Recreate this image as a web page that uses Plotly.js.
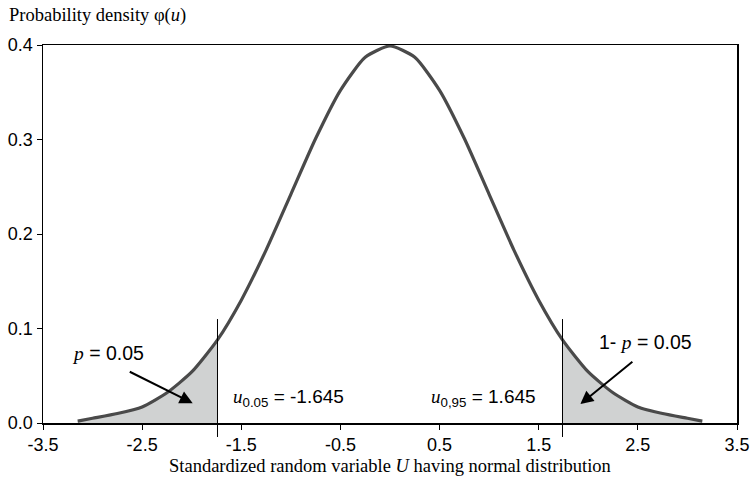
<!DOCTYPE html>
<html>
<head>
<meta charset="utf-8">
<script src="https://cdn.plot.ly/plotly-3.0.1.min.js"></script>
<style>html,body{margin:0;padding:0;background:#fff;}#chart{width:750px;height:481px;}</style>
</head>
<body>
<div id="chart"></div>
<script>
// Curve points
const uValues = [-3.15, -3.0, -2.75, -2.5, -2.25, -2.0, -1.74, -1.5, -1.25, -1.0, -0.75, -0.5, -0.25, 0.0, 0.25, 0.5, 0.75, 1.0, 1.25, 1.5, 1.74, 2.0, 2.25, 2.5, 2.75, 3.0, 3.15];
const densityValues = [0.002, 0.005, 0.010, 0.017, 0.032, 0.054, 0.088, 0.130, 0.183, 0.242, 0.301, 0.352, 0.387, 0.399, 0.387, 0.352, 0.301, 0.242, 0.183, 0.130, 0.088, 0.054, 0.032, 0.017, 0.010, 0.005, 0.002];
const criticalValues = [-1.74, 1.74];
const xTickValues = [-3.5, -2.5, -1.5, -0.5, 0.5, 1.5, 2.5, 3.5];
const yTickValues = [0.0, 0.1, 0.2, 0.3, 0.4];

const serif = "'Liberation Serif', 'Times New Roman', serif";
const sans = "'Liberation Sans', Arial, sans-serif";

function tail(cond) {
  const xs = [], ys = [];
  uValues.forEach((u, i) => { if (cond(u)) { xs.push(u); ys.push(densityValues[i]); } });
  return {x: xs, y: ys};
}
const leftTail = tail(u => u <= criticalValues[0]);
const rightTail = tail(u => u >= criticalValues[1]);

const fillColor = 'rgb(208,210,210)';
const traces = [
  {x: leftTail.x, y: leftTail.y, type: 'scatter', mode: 'lines', fill: 'tozeroy', fillcolor: fillColor, line: {width: 0, shape: 'spline', smoothing: 0.6}, hoverinfo: 'skip'},
  {x: rightTail.x, y: rightTail.y, type: 'scatter', mode: 'lines', fill: 'tozeroy', fillcolor: fillColor, line: {width: 0, shape: 'spline', smoothing: 0.6}, hoverinfo: 'skip'},
  {x: uValues, y: densityValues, type: 'scatter', mode: 'lines', line: {color: '#4a4a4a', width: 3.2, shape: 'spline', smoothing: 0.6}}
];

const shapes = criticalValues.map(c => ({
  type: 'line', xref: 'x', yref: 'paper', x0: c, x1: c, y0: -0.037, y1: 0.275,
  line: {color: '#000', width: 1}, layer: 'above'
}));

const serifSpan = t => "<span style='font-family:Liberation Serif'><i>" + t + "</i></span>";

const annotations = [
  {xref: 'paper', yref: 'paper', x: -0.052, y: 1.077, xanchor: 'left', yanchor: 'middle', showarrow: false,
   text: "Probability density φ(<i>u</i>)", font: {family: serif, size: 18.5, color: '#000'}},
  {xref: 'paper', yref: 'paper', x: 0.5, y: -0.113, xanchor: 'center', yanchor: 'middle', showarrow: false,
   text: "Standardized random variable <i>U</i> having normal distribution", font: {family: serif, size: 18.5, color: '#000'}},
  {xref: 'x', yref: 'y', x: -2.84, y: 0.074, xanchor: 'center', yanchor: 'middle', showarrow: false,
   text: serifSpan('p') + " = 0.05", font: {family: sans, size: 19.5, color: '#000'}},
  {xref: 'x', yref: 'y', x: 2.58, y: 0.086, xanchor: 'center', yanchor: 'middle', showarrow: false,
   text: "1- " + serifSpan('p') + " = 0.05", font: {family: sans, size: 19.5, color: '#000'}},
  {xref: 'x', yref: 'y', x: -1.02, y: 0.026, xanchor: 'center', yanchor: 'middle', showarrow: false,
   text: serifSpan('u') + "<sub>0.05</sub> = -1.645", font: {family: sans, size: 19, color: '#000'}},
  {xref: 'x', yref: 'y', x: 0.94, y: 0.026, xanchor: 'center', yanchor: 'middle', showarrow: false,
   text: serifSpan('u') + "<sub>0,95</sub> = 1.645", font: {family: sans, size: 19, color: '#000'}},
  {xref: 'x', yref: 'y', x: -1.99, y: 0.021, ax: -2.64, ay: 0.055, axref: 'x', ayref: 'y', showarrow: true,
   arrowhead: 2, arrowsize: 1.3, arrowwidth: 2, arrowcolor: '#000', text: ''},
  {xref: 'x', yref: 'y', x: 1.92, y: 0.020, ax: 2.46, ay: 0.066, axref: 'x', ayref: 'y', showarrow: true,
   arrowhead: 2, arrowsize: 1.3, arrowwidth: 2, arrowcolor: '#000', text: ''}
];

const layout = {
  width: 750, height: 481,
  margin: {l: 43, r: 13, t: 45, b: 58},
  paper_bgcolor: '#fff', plot_bgcolor: '#fff',
  showlegend: false,
  xaxis: {
    range: [-3.5, 3.5], tickvals: xTickValues, ticktext: xTickValues.map(v => v.toFixed(1)),
    showgrid: false, zeroline: false, showline: true, linecolor: '#000', linewidth: 1.5, mirror: true,
    ticks: 'outside', ticklen: 5, tickcolor: '#000', tickfont: {family: sans, size: 18, color: '#000'}
  },
  yaxis: {
    range: [0, 0.4], tickvals: yTickValues, ticktext: yTickValues.map(v => v.toFixed(1)),
    showgrid: false, zeroline: false, showline: true, linecolor: '#000', linewidth: 1.5, mirror: true,
    ticks: 'outside', ticklen: 5, tickcolor: '#000', tickfont: {family: sans, size: 18, color: '#000'}
  },
  shapes: shapes,
  annotations: annotations
};

Plotly.newPlot('chart', traces, layout, {displayModeBar: false, staticPlot: true});
</script>
</body>
</html>
